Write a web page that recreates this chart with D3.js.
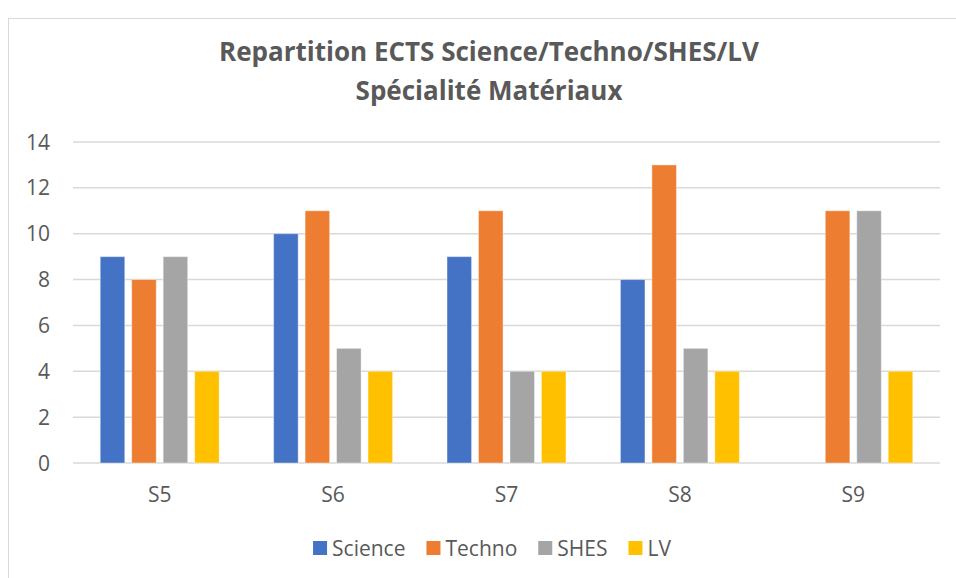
<!DOCTYPE html>
<html lang="fr">
<head>
<meta charset="UTF-8">
<title>Repartition ECTS</title>
<script src="https://d3js.org/d3.v7.min.js"></script>
<style>
  body { margin: 0; background: #fff; }
  text { font-family: "Open Sans", "Noto Sans", sans-serif; fill: #595959; }
</style>
</head>
<body>
<div id="chart"></div>
<script>
// Data
var semesters = ["S5", "S6", "S7", "S8", "S9"];
var seriesNames = ["Science", "Techno", "SHES", "LV"];
var science = [9, 10, 9, 8, 0];
var techno = [8, 11, 11, 13, 11];
var shes = [9, 5, 4, 5, 11];
var lv = [4, 4, 4, 4, 4];
var yTicks = [0, 2, 4, 6, 8, 10, 12, 14];
var colors = ["#4472C4", "#ED7D31", "#A5A5A5", "#FFC000"];

var values = [science, techno, shes, lv];
var rows = semesters.map(function(s, i) {
    return seriesNames.map(function(n, j) { return { sem: s, key: n, value: values[j][i] }; });
});

var W = 956, H = 578;
var margin = { top: 142, right: 16, bottom: 115, left: 73 };
var width = W - margin.left - margin.right,
    height = H - margin.top - margin.bottom;

var svg = d3.select("#chart").append("svg")
    .attr("width", W).attr("height", H);

// chart frame
svg.append("rect")
    .attr("x", 8.5).attr("y", 18.5)
    .attr("width", 1000).attr("height", 600)
    .attr("fill", "none").attr("stroke", "#D9D9D9");

// title
var title = svg.append("text")
    .attr("text-anchor", "middle")
    .style("font-weight", "bold")
    .style("font-size", "26px");
title.append("tspan").attr("x", 489).attr("y", 61).text("Repartition ECTS Science/Techno/SHES/LV");
title.append("tspan").attr("x", 489).attr("y", 100).text("Spécialité Matériaux");

var g = svg.append("g").attr("transform", "translate(" + margin.left + "," + margin.top + ")");

var x0 = d3.scaleBand().domain(semesters).range([0, width])
    .paddingInner(0.314).paddingOuter(0.157);
var x1 = d3.scaleBand().domain(seriesNames).range([0, x0.bandwidth()])
    .paddingInner(0.22);
var y = d3.scaleLinear().domain([0, 14]).range([height, 0]);

// gridlines
g.selectAll(".grid").data(yTicks).enter().append("line")
    .attr("x1", 0).attr("x2", width)
    .attr("y1", function(d) { return y(d); })
    .attr("y2", function(d) { return y(d); })
    .attr("stroke", "#D9D9D9").attr("stroke-width", 1.5);

// y labels
g.selectAll(".ylab").data(yTicks).enter().append("text")
    .attr("x", -23).attr("y", function(d) { return y(d); })
    .attr("dy", "0.36em").attr("text-anchor", "end")
    .style("font-size", "21px")
    .text(function(d) { return d; });

// bars
var groups = g.selectAll(".grp").data(rows).enter().append("g")
    .attr("transform", function(d, i) { return "translate(" + x0(semesters[i]) + ",0)"; });
groups.selectAll("rect").data(function(d) { return d.filter(function(v) { return v.value > 0; }); })
    .enter().append("rect")
    .attr("x", function(d) { return x1(d.key); })
    .attr("width", x1.bandwidth())
    .attr("y", function(d) { return y(d.value); })
    .attr("height", function(d) { return height - y(d.value); })
    .attr("fill", function(d) { return colors[seriesNames.indexOf(d.key)]; })
    .attr("stroke", "#fff").attr("stroke-opacity", 0.4).attr("stroke-width", 1);

// x labels
g.selectAll(".xlab").data(semesters).enter().append("text")
    .attr("x", function(d) { return x0(d) + x0.bandwidth() / 2; })
    .attr("y", height + 39)
    .attr("text-anchor", "middle")
    .style("font-size", "21px")
    .text(function(d) { return d; });

// legend
var legend = svg.append("g");
var lx = 0;
seriesNames.forEach(function(n, i) {
    var item = legend.append("g").attr("transform", "translate(" + lx + ",0)");
    item.append("rect").attr("x", 0).attr("y", -7).attr("width", 14).attr("height", 14)
        .attr("fill", colors[i]);
    var t = item.append("text").attr("x", 19).attr("dy", "0.36em")
        .style("font-size", "21px").text(n);
    lx += 19 + t.node().getComputedTextLength() + 21;
});
var lw = lx - 21;
legend.attr("transform", "translate(" + (492 - lw / 2) + ",548)");
</script>
</body>
</html>
